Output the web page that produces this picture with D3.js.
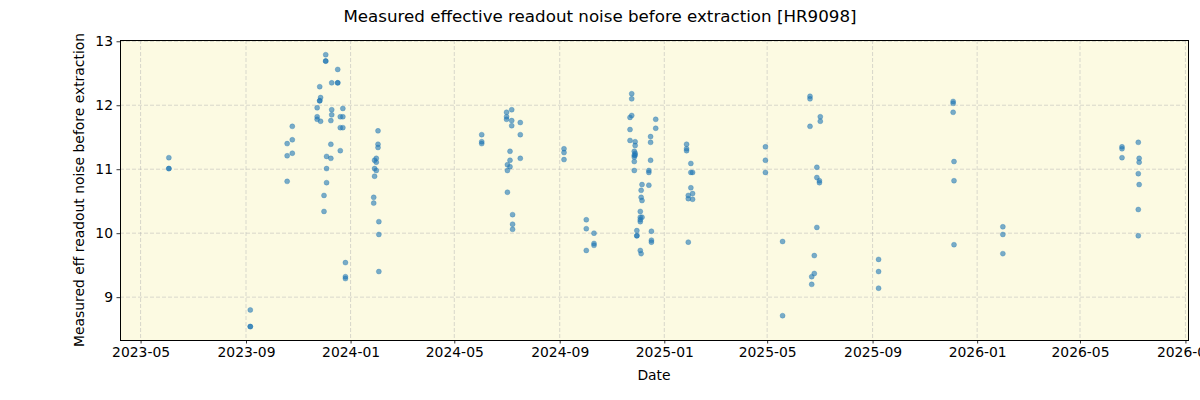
<!DOCTYPE html>
<html>
<head>
<meta charset="utf-8">
<script src="https://cdn.jsdelivr.net/npm/d3@7"></script>
<style>
  body { margin: 0; background: #fff; }
  text { font-family: "DejaVu Sans", sans-serif; }
</style>
</head>
<body>
<script>
var obsDates = [
  "2023-06-03","2023-06-03","2023-06-03",
  "2023-09-06","2023-09-06","2023-09-06",
  "2023-10-19","2023-10-19","2023-10-19",
  "2023-10-25","2023-10-25","2023-10-25",
  "2023-11-23","2023-11-23","2023-11-23",
  "2023-11-26","2023-11-26","2023-11-26",
  "2023-11-27","2023-11-27",
  "2023-12-01","2023-12-01",
  "2023-12-03","2023-12-03","2023-12-03",
  "2023-12-04","2023-12-04","2023-12-04",
  "2023-12-09","2023-12-09","2023-12-09",
  "2023-12-10","2023-12-10","2023-12-10",
  "2023-12-17","2023-12-17","2023-12-17",
  "2023-12-20","2023-12-20","2023-12-20",
  "2023-12-23","2023-12-23","2023-12-23",
  "2023-12-26","2023-12-26","2023-12-26",
  "2024-01-28","2024-01-28",
  "2024-01-29","2024-01-29","2024-01-29",
  "2024-01-31","2024-01-31","2024-01-31",
  "2024-02-02","2024-02-02","2024-02-02",
  "2024-02-03","2024-02-03","2024-02-03",
  "2024-06-02","2024-06-02","2024-06-02",
  "2024-07-01","2024-07-01","2024-07-01",
  "2024-07-02","2024-07-02","2024-07-02",
  "2024-07-05","2024-07-05","2024-07-05",
  "2024-07-07","2024-07-07","2024-07-07",
  "2024-07-08","2024-07-08","2024-07-08",
  "2024-07-17","2024-07-17","2024-07-17",
  "2024-09-06","2024-09-06","2024-09-06",
  "2024-10-02","2024-10-02","2024-10-02",
  "2024-10-11","2024-10-11","2024-10-11",
  "2024-11-22","2024-11-22","2024-11-22",
  "2024-11-24","2024-11-24","2024-11-24",
  "2024-11-27","2024-11-27","2024-11-27","2024-11-27","2024-11-27",
  "2024-11-28","2024-11-28","2024-11-28","2024-11-28",
  "2024-11-30","2024-11-30","2024-11-30",
  "2024-12-04","2024-12-04","2024-12-04","2024-12-04","2024-12-04",
  "2024-12-05","2024-12-05","2024-12-05",
  "2024-12-06","2024-12-06","2024-12-06",
  "2024-12-14","2024-12-14","2024-12-14",
  "2024-12-16","2024-12-16","2024-12-16",
  "2024-12-17","2024-12-17","2024-12-17",
  "2024-12-22","2024-12-22",
  "2025-01-27","2025-01-27","2025-01-27",
  "2025-01-29","2025-01-29","2025-01-29",
  "2025-02-01","2025-02-01","2025-02-01",
  "2025-02-03","2025-02-03","2025-02-03",
  "2025-04-29","2025-04-29","2025-04-29",
  "2025-05-19","2025-05-19",
  "2025-06-20","2025-06-20","2025-06-20",
  "2025-06-22","2025-06-22",
  "2025-06-25","2025-06-25",
  "2025-06-28","2025-06-28","2025-06-28",
  "2025-07-01","2025-07-01",
  "2025-07-02","2025-07-02",
  "2025-09-08","2025-09-08","2025-09-08",
  "2025-12-04","2025-12-04","2025-12-04",
  "2025-12-05","2025-12-05","2025-12-05",
  "2026-01-31","2026-01-31","2026-01-31",
  "2026-06-19","2026-06-19","2026-06-19",
  "2026-07-08","2026-07-08","2026-07-08","2026-07-08",
  "2026-07-09","2026-07-09","2026-07-09"
];
var noiseValues = [
  11.18, 11.01, 11.01,
  8.80, 8.54, 8.54,
  11.40, 11.21, 10.81,
  11.67, 11.46, 11.25,
  11.96, 11.82, 11.78,
  12.29, 12.07, 12.07,
  12.12, 11.75,
  10.59, 10.34,
  12.79, 12.69, 12.69,
  11.20, 11.01, 10.79,
  11.76, 11.39, 11.17,
  12.35, 11.93, 11.85,
  12.56, 12.35, 12.35,
  11.82, 11.65, 11.29,
  11.95, 11.82, 11.65,
  9.54, 9.32, 9.29,
  10.56, 10.47,
  11.14, 11.01, 10.89,
  11.17, 11.11, 10.98,
  11.60, 11.39, 11.34,
  10.18, 9.98, 9.40,
  11.54, 11.43, 11.40,
  11.89, 11.82, 11.78,
  11.07, 10.98, 10.64,
  11.28, 11.14, 11.04,
  11.93, 11.76, 11.68,
  10.29, 10.14, 10.06,
  11.73, 11.54, 11.17,
  11.32, 11.26, 11.15,
  10.21, 10.07, 9.73,
  10.00, 9.84, 9.81,
  11.81, 11.62, 11.45,
  12.18, 12.10, 11.84,
  11.28, 11.22, 11.19, 11.12, 10.98,
  11.43, 11.37, 11.25, 11.22,
  10.04, 9.96, 9.96,
  10.34, 10.25, 10.21, 10.18, 9.73,
  10.67, 10.56, 9.68,
  10.76, 10.51, 10.25,
  10.98, 10.95, 10.75,
  11.51, 11.42, 11.14,
  10.03, 9.89, 9.86,
  11.78, 11.64,
  11.39, 11.32, 11.29,
  10.59, 10.54, 9.86,
  11.09, 10.95, 10.71,
  10.95, 10.62, 10.53,
  11.35, 11.14, 10.95,
  9.87, 8.71,
  12.14, 12.10, 11.67,
  9.32, 9.20,
  9.65, 9.37,
  11.03, 10.87, 10.09,
  10.82, 10.79,
  11.82, 11.75,
  9.59, 9.40, 9.14,
  12.06, 12.03, 11.89,
  11.12, 10.82, 9.82,
  10.10, 9.98, 9.68,
  11.35, 11.32, 11.18,
  11.42, 10.93, 10.37, 9.96,
  11.17, 11.11, 10.76
];
var xTickLabels = ["2023-05","2023-09","2024-01","2024-05","2024-09","2025-01","2025-05","2025-09","2026-01","2026-05","2026-09"];
var yTickValues = [9, 10, 11, 12, 13];

var width = 1200, height = 400;
var margin = {top: 40, right: 12, bottom: 60, left: 120};
var parse = d3.timeParse("%Y-%m-%d");
var parseMonth = d3.timeParse("%Y-%m");

var svg = d3.select("body").append("svg")
  .attr("width", width)
  .attr("height", height);

var x = d3.scaleTime()
  .domain([parse("2023-04-07"), parse("2026-09-04")])
  .range([margin.left, width - margin.right]);

var y = d3.scaleLinear()
  .domain([8.33, 13.02])
  .range([height - margin.bottom, margin.top]);

// plot background
svg.append("rect")
  .attr("x", margin.left).attr("y", margin.top)
  .attr("width", width - margin.left - margin.right)
  .attr("height", height - margin.top - margin.bottom)
  .attr("fill", "#fcfae2");

var xTicks = xTickLabels.map(function(s){ return parseMonth(s); });

// grid
svg.append("g").selectAll("line").data(xTicks).enter().append("line")
  .attr("x1", function(d){ return x(d); }).attr("x2", function(d){ return x(d); })
  .attr("y1", margin.top).attr("y2", height - margin.bottom)
  .attr("stroke", "#b0b0b0").attr("stroke-opacity", 0.6)
  .attr("stroke-dasharray", "4,2").attr("stroke-width", 0.8);
svg.append("g").selectAll("line").data(yTickValues).enter().append("line")
  .attr("x1", margin.left).attr("x2", width - margin.right)
  .attr("y1", function(d){ return y(d); }).attr("y2", function(d){ return y(d); })
  .attr("stroke", "#b0b0b0").attr("stroke-opacity", 0.6)
  .attr("stroke-dasharray", "4,2").attr("stroke-width", 0.8);

// points
var pts = obsDates.map(function(d, i){ return {date: parse(d), v: noiseValues[i]}; });
svg.append("g").selectAll("circle").data(pts).enter().append("circle")
  .attr("cx", function(d){ return x(d.date); })
  .attr("cy", function(d){ return y(d.v); })
  .attr("r", 2.5)
  .attr("fill", "#1f77b4").attr("fill-opacity", 0.6)
  .attr("stroke", "#1f77b4").attr("stroke-opacity", 0.6).attr("stroke-width", 0.5);

// axes
var xAxis = svg.append("g")
  .attr("transform", "translate(0," + (height - margin.bottom) + ")")
  .call(d3.axisBottom(x).tickValues(xTicks).tickFormat(d3.timeFormat("%Y-%m")).tickSizeOuter(0).tickSize(3.5));
var yAxis = svg.append("g")
  .attr("transform", "translate(" + margin.left + ",0)")
  .call(d3.axisLeft(y).tickValues(yTickValues).tickFormat(d3.format("d")).tickSizeOuter(0).tickSize(3.5));
[xAxis, yAxis].forEach(function(a){
  a.select(".domain").remove();
  a.selectAll("text").attr("font-size", 13.9).attr("fill", "#000").attr("font-family", "DejaVu Sans");
  a.selectAll("line").attr("stroke", "#000").attr("stroke-width", 0.8);
});
xAxis.selectAll("text").attr("dy", "0.71em").attr("y", 7);
yAxis.selectAll("text").attr("x", -7);

// frame
svg.append("rect")
  .attr("x", margin.left + 0.5).attr("y", margin.top + 0.5)
  .attr("width", width - margin.left - margin.right)
  .attr("height", height - margin.top - margin.bottom)
  .attr("fill", "none").attr("stroke", "#000").attr("stroke-width", 1);

// labels
svg.append("text")
  .attr("x", 600).attr("y", 22)
  .attr("text-anchor", "middle").attr("font-size", 16.7)
  .text("Measured effective readout noise before extraction [HR9098]");
svg.append("text")
  .attr("x", (margin.left + width - margin.right) / 2).attr("y", 380)
  .attr("text-anchor", "middle").attr("font-size", 13.9)
  .text("Date");
svg.append("text")
  .attr("transform", "translate(84," + ((margin.top + height - margin.bottom) / 2) + ") rotate(-90)")
  .attr("text-anchor", "middle").attr("font-size", 13.9)
  .text("Measured eff readout noise before extraction");
</script>
</body>
</html>
